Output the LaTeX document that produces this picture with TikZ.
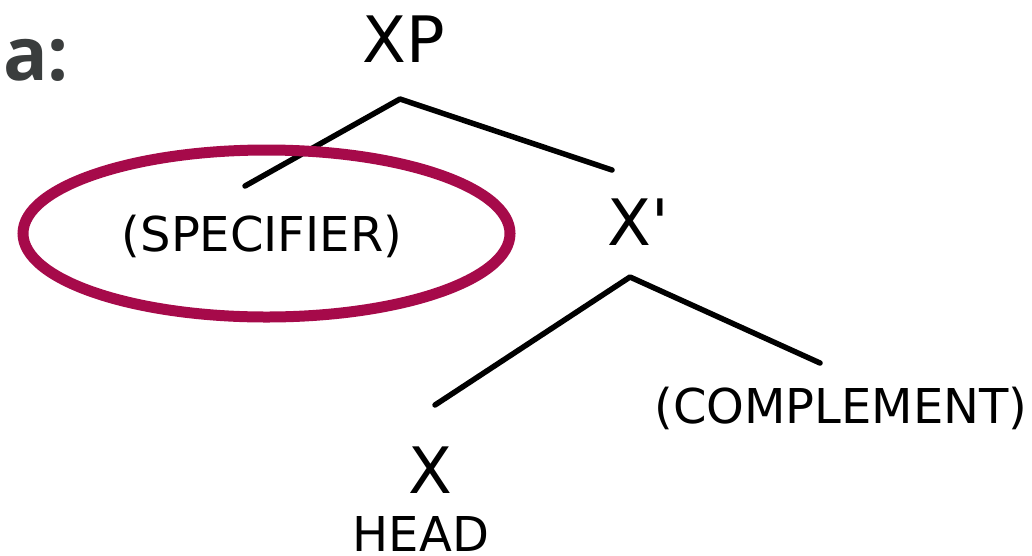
\documentclass[tikz,border=0pt]{standalone}
\usepackage{fontspec}
\setmainfont{DejaVu Sans}
\newfontfamily\afont{Open Sans}
\definecolor{crim}{RGB}{166,10,74}
\definecolor{agray}{RGB}{58,61,61}
\begin{document}
\begin{tikzpicture}[x=1pt,y=-1pt,
  big/.style={inner sep=0pt,anchor=base,font=\fontsize{64}{70}\selectfont},
  small/.style={inner sep=0pt,anchor=base,font=\fontsize{48}{54}\selectfont},
  branch/.style={line width=5.5pt,line cap=round,line join=round},
  ring/.style={draw=crim,line width=11pt}]
\useasboundingbox (0,0) rectangle (1032,555);
\node[inner sep=0pt,anchor=base west,text=agray,font=\afont\bfseries\fontsize{74}{80}\selectfont] (lab) at (3,80) {a:};
\node[big] (XP) at (404,62) {XP};
\node[big] (Xbar) at (638,245) {X\textquotesingle};
\node[big] (X) at (430,493) {X};
\node[small] (head) at (421,551) {HEAD};
\node[small] (spec) at (262,251) {(SPECIFIER)};
\node[small] (comp) at (841,423) {(COMPLEMENT)};
\coordinate (xpapex) at (400,99);
\coordinate (specend) at (245,186);
\coordinate (xbarend) at (612,170);
\coordinate (xbarapex) at (630,277);
\coordinate (xend) at (435,405);
\coordinate (compend) at (820,363);
\draw[branch] (specend) -- (xpapex) -- (xbarend);
\draw[branch] (xend) -- (xbarapex) -- (compend);
\draw[ring] (266.5,233.5) ellipse [x radius=243.5, y radius=83.5];
\end{tikzpicture}
\end{document}
